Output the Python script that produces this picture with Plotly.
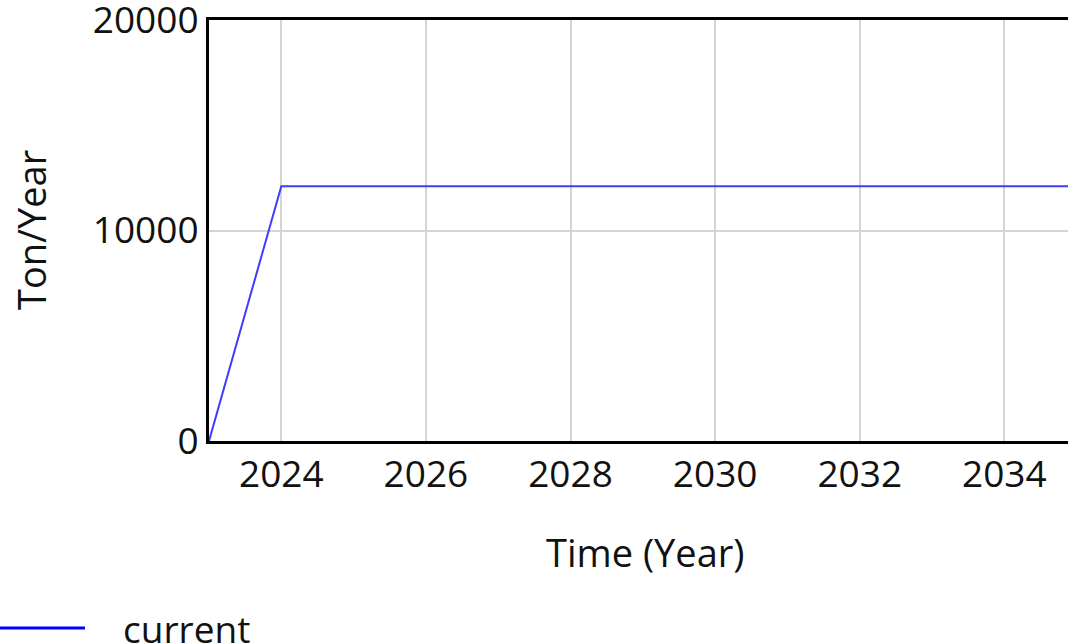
import plotly.graph_objects as go

# Simulation output, yearly
YEARS = [2023, 2024, 2025, 2026, 2027, 2028, 2029, 2030, 2031, 2032, 2033, 2034, 2035]
CURRENT = [0, 12100, 12100, 12100, 12100, 12100, 12100, 12100, 12100, 12100, 12100, 12100, 12100]
X_TICKS = [2024, 2026, 2028, 2030, 2032, 2034]
Y_TICKS = [0, 10000, 20000]

FONT = "Open Sans"
PLOT_W, PLOT_H = 859, 421  # plot area in px


def px_x(x):
    return (x - 209) / PLOT_W


def px_y(y):
    return (441 - y) / PLOT_H


fig = go.Figure()

fig.add_trace(go.Scatter(
    x=YEARS,
    y=CURRENT,
    mode="lines",
    name="current",
    line=dict(color="#3d3dff", width=2),
    showlegend=False,
))

# legend drawn by hand: long line + label at bottom left
fig.add_shape(
    type="line", xref="paper", yref="paper",
    x0=px_x(0), x1=px_x(85), y0=px_y(628), y1=px_y(628),
    line=dict(color="#0000ff", width=3),
)
fig.add_annotation(
    xref="paper", yref="paper", x=px_x(121), y=px_y(628),
    xanchor="left", yanchor="middle",
    text="current", showarrow=False,
    font=dict(family=FONT, size=37, color="#111"),
)

# axis titles as annotations so they sit where the original has them
fig.add_annotation(
    xref="paper", yref="paper", x=px_x(645), y=px_y(552),
    xanchor="center", yanchor="middle",
    text="Time (Year)", showarrow=False,
    font=dict(family=FONT, size=38, color="#111"),
)
fig.add_annotation(
    xref="paper", yref="paper", x=px_x(31), y=px_y(230),
    xanchor="center", yanchor="middle", textangle=-90,
    text="Ton/Year", showarrow=False,
    font=dict(family=FONT, size=38, color="#111"),
)

fig.update_layout(
    width=1068,
    height=644,
    margin=dict(l=209, r=0, t=20, b=203),
    plot_bgcolor="white",
    paper_bgcolor="white",
    font=dict(family=FONT, size=37, color="#111"),
    xaxis=dict(
        range=[2023, 2034.88],
        tickvals=X_TICKS,
        ticktext=[str(v) for v in X_TICKS],
        showgrid=True, gridcolor="#d4d4d4", gridwidth=2,
        showline=True, linecolor="black", linewidth=3, mirror=True,
        zeroline=False, ticks="",
        ticklabelstandoff=-1,
        ticklabeloverflow="allow",
        automargin=False,
    ),
    yaxis=dict(
        range=[0, 20000],
        tickvals=Y_TICKS,
        ticktext=[str(v) for v in Y_TICKS],
        showgrid=True, gridcolor="#d4d4d4", gridwidth=2,
        showline=True, linecolor="black", linewidth=3,
        zeroline=False, ticks="",
        ticklabelstandoff=0,
        ticklabeloverflow="allow",
        automargin=False,
    ),
)

# drop the browser's default 8px body margin so the figure fills the window
fig.write_html(
    "out.html",
    config={"displayModeBar": False},
    post_script="document.body.style.margin='0';",
)
